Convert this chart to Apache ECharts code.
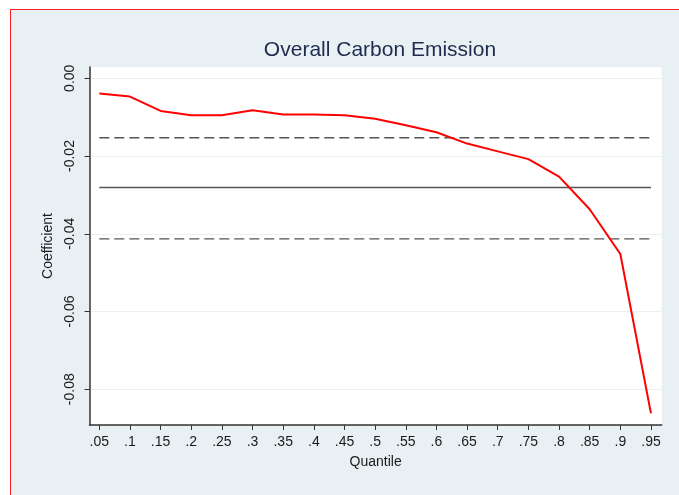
<!DOCTYPE html>
<html lang="en">
<head>
    <meta charset="UTF-8">
    <title>Overall Carbon Emission</title>
    <script src="https://cdn.jsdelivr.net/npm/echarts@6/dist/echarts.min.js"></script>
    <style>
        body {
            margin: 0;
            padding: 0;
            background-color: #ffffff;
            overflow: hidden;
        }
        #frame {
            position: absolute;
            left: 10px;
            top: 9px;
            width: 700px;
            height: 500px;
            background-color: #e8f0f3;
            border-top: 1.5px solid #ff2020;
            border-left: 1.5px solid #ff2020;
        }
        #chart {
            position: absolute;
            left: 0;
            top: 0;
            width: 679px;
            height: 495px;
        }
    </style>
</head>
<body>
<div id="frame"></div>
<div id="chart"></div>

<script>
    // quantiles and estimated coefficients
    var quantiles = [0.05, 0.1, 0.15, 0.2, 0.25, 0.3, 0.35, 0.4, 0.45, 0.5,
                     0.55, 0.6, 0.65, 0.7, 0.75, 0.8, 0.85, 0.9, 0.95];
    var coefficients = [-0.0039, -0.0047, -0.0084, -0.0095, -0.0095, -0.0082, -0.0093, -0.0093, -0.0095, -0.0104,
                        -0.0121, -0.0139, -0.0168, -0.0188, -0.0208, -0.0253, -0.0337, -0.0452, -0.0862];
    var xTickLabels = ['.05', '.1', '.15', '.2', '.25', '.3', '.35', '.4', '.45', '.5',
                       '.55', '.6', '.65', '.7', '.75', '.8', '.85', '.9', '.95'];
    var yTicks = [0, -0.02, -0.04, -0.06, -0.08];
    var yTickLabels = ['0.00', '-0.02', '-0.04', '-0.06', '-0.08'];

    // OLS estimate and its confidence bounds
    var olsCoef = -0.0281;
    var upperBound = -0.0153;
    var lowerBound = -0.0413;

    var chart = echarts.init(document.getElementById('chart'));

    function hline(v) {
        return [[quantiles[0], v], [quantiles[quantiles.length - 1], v]];
    }

    var textFont = 'Arial, "Liberation Sans", sans-serif';

    var option = {
        backgroundColor: 'transparent',
        animation: false,
        title: {
            text: 'Overall Carbon Emission',
            left: 375,
            textAlign: 'center',
            top: 35,
            textStyle: {
                fontFamily: textFont,
                fontSize: 21,
                fontWeight: 'normal',
                color: '#1e2a4e'
            }
        },
        grid: {
            left: 89.5,
            top: 67,
            right: 17.3,
            bottom: 70,
            show: true,
            backgroundColor: '#ffffff',
            borderWidth: 0
        },
        xAxis: {
            type: 'value',
            min: 0.034,
            max: 0.9675,
            name: 'Quantile',
            nameLocation: 'middle',
            nameGap: 30,
            nameTextStyle: { fontFamily: textFont, fontSize: 14, color: '#1a1a1a' },
            axisLine: { show: true, onZero: false, lineStyle: { color: '#333333', width: 1.5 } },
            axisTick: { show: true, inside: false, length: 5, customValues: quantiles, lineStyle: { color: '#333333' } },
            axisLabel: {
                customValues: quantiles,
                margin: 10,
                fontFamily: textFont,
                fontSize: 14,
                color: '#1a1a1a',
                formatter: function (v) {
                    var i = quantiles.findIndex(function (q) { return Math.abs(q - v) < 1e-6; });
                    return i >= 0 ? xTickLabels[i] : '';
                }
            },
            splitLine: { show: false }
        },
        yAxis: {
            type: 'value',
            min: -0.0892,
            max: 0.0029,
            name: 'Coefficient',
            nameLocation: 'middle',
            nameGap: 33,
            nameTextStyle: { fontFamily: textFont, fontSize: 14, color: '#1a1a1a' },
            axisLine: { show: true, onZero: false, lineStyle: { color: '#333333', width: 1.5 } },
            axisTick: { show: true, inside: false, length: 5, customValues: yTicks, lineStyle: { color: '#333333' } },
            axisLabel: {
                customValues: yTicks,
                rotate: 90,
                margin: 12,
                fontFamily: textFont,
                fontSize: 14,
                color: '#1a1a1a',
                formatter: function (v) {
                    var i = yTicks.findIndex(function (t) { return Math.abs(t - v) < 1e-9; });
                    return i >= 0 ? yTickLabels[i] : '';
                }
            },
            splitLine: { show: true, lineStyle: { color: '#e9f1f3', width: 1 } }
        },
        series: [
            {
                name: 'upper',
                type: 'line',
                data: hline(upperBound),
                symbol: 'none',
                silent: true,
                lineStyle: { color: '#555555', width: 1.3, type: [10, 5] }
            },
            {
                name: 'ols',
                type: 'line',
                data: hline(olsCoef),
                symbol: 'none',
                silent: true,
                lineStyle: { color: '#555555', width: 1.3 }
            },
            {
                name: 'lower',
                type: 'line',
                data: hline(lowerBound),
                symbol: 'none',
                silent: true,
                lineStyle: { color: '#555555', width: 1.3, type: [10, 5] }
            },
            {
                name: 'Coefficient',
                type: 'line',
                data: quantiles.map(function (q, i) { return [q, coefficients[i]]; }),
                symbol: 'none',
                lineStyle: { color: '#ff0000', width: 2 }
            }
        ]
    };

    chart.setOption(option);
</script>
</body>
</html>
